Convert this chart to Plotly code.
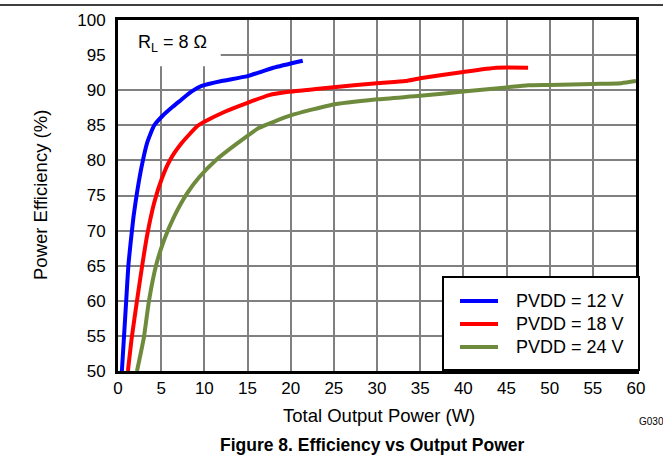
import plotly.graph_objects as go

# Data
blue_x = [0.45, 0.7, 0.95, 1.2, 1.5, 1.8, 2.2, 2.8, 3.4, 4.2, 5.2, 6.2, 7.3, 8.5, 9.7, 12.0, 15.0, 18.0, 21.4]
blue_y = [50, 55, 60, 65, 68.7, 72, 75.4, 79.5, 82.6, 85, 86.4, 87.5, 88.6, 89.8, 90.6, 91.3, 92.0, 93.2, 94.2]

red_x = [1.15, 1.6, 2.2, 2.8, 3.4, 4.2, 5.1, 6.0, 7.4, 9.2, 10.0, 12.5, 15.0, 17.5, 20.0, 24.7, 30.0, 33.3, 35.0, 40.0, 43.8, 47.5]
red_y = [50, 54.8, 60, 65, 69.5, 74, 77.5, 80, 82.5, 84.9, 85.5, 87.0, 88.2, 89.3, 89.8, 90.4, 91.0, 91.3, 91.7, 92.6, 93.2, 93.2]

green_x = [2.2, 3.0, 3.6, 4.4, 5.35, 6.5, 8.0, 9.4, 11.3, 14.0, 16.3, 20.0, 24.7, 30.0, 35.0, 40.0, 45.0, 47.5, 50.0, 55.0, 58.3, 60.0]
green_y = [50, 54.8, 60.1, 65.0, 68.7, 72, 75.3, 77.6, 80, 82.6, 84.6, 86.4, 87.9, 88.7, 89.2, 89.8, 90.4, 90.7, 90.75, 90.9, 91.0, 91.3]

names = ["PVDD = 12 V", "PVDD = 18 V", "PVDD = 24 V"]
colors = ["#0000FF", "#FF0000", "#6E8B3D"]

x_ticks = list(range(0, 61, 5))
y_ticks = list(range(50, 101, 5))

FONT = "Liberation Sans, Arial, sans-serif"

# plot area in pixels
L, R, T, B = 118, 636, 20, 371
W, H = 663, 458
def px(xp):
    return (xp - L) / (R - L)
def py(yp):
    return (B - yp) / (B - T)

fig = go.Figure()
for xs, ys, n, c in zip([blue_x, red_x, green_x], [blue_y, red_y, green_y], names, colors):
    fig.add_trace(go.Scatter(x=xs, y=ys, mode="lines", name=n, showlegend=False,
                             line=dict(color=c, width=4, shape="spline", smoothing=0.5)))

fig.update_layout(
    width=W, height=H,
    margin=dict(l=L, r=W - R, t=T, b=H - B),
    paper_bgcolor="white", plot_bgcolor="white",
    font=dict(family=FONT, size=17, color="black"),
    showlegend=False,
    xaxis=dict(range=[0, 60], tickvals=x_ticks, showgrid=True, gridcolor="#808080",
               gridwidth=1.5, showline=True, linecolor="black", linewidth=3, mirror=True,
               ticks="", zeroline=False, tickfont=dict(size=17)),
    yaxis=dict(range=[50, 100], tickvals=y_ticks, showgrid=True, gridcolor="#808080",
               gridwidth=1.5, showline=True, linecolor="black", linewidth=3, mirror=True,
               ticks="", zeroline=False, tickfont=dict(size=17), ticklabelstandoff=6),
)

# White box behind R_L label
fig.add_shape(type="rect", xref="x", yref="y", x0=0, x1=11.9, y0=93.4, y1=100,
              fillcolor="white", line=dict(width=0), layer="between")
fig.add_annotation(x=px(136), y=py(43), xref="paper", yref="paper", xanchor="left", yanchor="middle",
                   text="R<sub>L</sub> = 8 Ω", showarrow=False, font=dict(size=18))

# legend drawn as a box with line samples
fig.add_shape(type="rect", xref="paper", yref="paper", x0=px(443), x1=px(639), y0=py(370), y1=py(277),
              fillcolor="white", line=dict(color="black", width=2), layer="above")
for i, (n, c) in enumerate(zip(names, colors)):
    yy = 301 + 23 * i
    fig.add_shape(type="line", xref="paper", yref="paper", x0=px(460), x1=px(498), y0=py(yy), y1=py(yy),
                  line=dict(color=c, width=4), layer="above")
    fig.add_annotation(x=px(514), y=py(yy), xref="paper", yref="paper", xanchor="left", yanchor="middle",
                       text=n, showarrow=False, font=dict(size=18))

# header line
fig.add_shape(type="line", xref="paper", yref="paper", x0=px(0), x1=px(W), y0=py(5), y1=py(5),
              line=dict(color="black", width=1.5))

# axis titles, caption, figure id
fig.add_annotation(text="Total Output Power (W)", x=px(379), y=py(415), xref="paper", yref="paper",
                   xanchor="center", yanchor="middle", showarrow=False, font=dict(size=18.5))
fig.add_annotation(text="Power Efficiency (%)", textangle=-90, x=px(40), y=py(195), xref="paper", yref="paper",
                   xanchor="center", yanchor="middle", showarrow=False, font=dict(size=18.5))
fig.add_annotation(text="<b>Figure 8. Efficiency vs Output Power</b>", x=px(372), y=py(445),
                   xref="paper", yref="paper", xanchor="center", yanchor="middle", showarrow=False,
                   font=dict(size=17.5))
fig.add_annotation(text="G030", x=px(637), y=py(421), xref="paper", yref="paper",
                   xanchor="left", yanchor="middle", showarrow=False, font=dict(size=10))

fig.write_html("out.html")
